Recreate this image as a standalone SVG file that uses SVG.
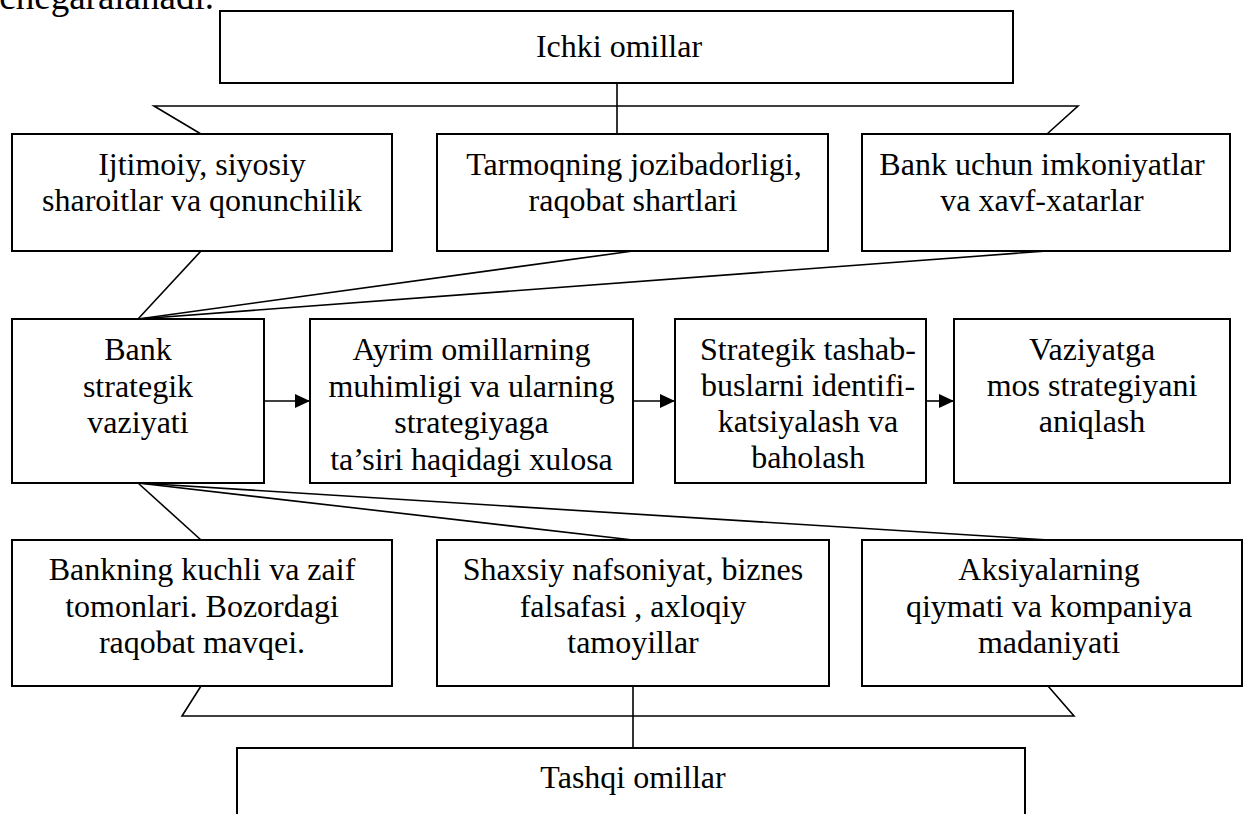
<svg xmlns="http://www.w3.org/2000/svg" width="1246" height="814" viewBox="0 0 1246 814">
  <style>
    .box { fill: #ffffff; stroke: #000000; stroke-width: 2; }
    .ln { fill: none; stroke: #000000; stroke-width: 1.6; }
    text { font-family: "Liberation Serif", "Times New Roman", serif; font-size: 32px; fill: #000000; text-anchor: middle; }
  </style>
  <defs>
    <marker id="arrow" markerUnits="userSpaceOnUse" markerWidth="16" markerHeight="14" refX="15" refY="7" orient="auto">
      <path d="M0,0 L15,7 L0,14 z" fill="#000000"/>
    </marker>
  </defs>

  <rect width="1246" height="814" fill="#ffffff"/>

  <!-- tail of the preceding paragraph -->
  <text x="214" y="9" style="text-anchor:end;font-size:37px">chegaralanadi.</text>

  <!-- connectors -->
  <g id="connectors">
    <!-- upper bracket -->
    <polyline class="ln" points="201,134 154,106 1078,106 1047,134"/>
    <line class="ln" x1="617" y1="83" x2="617" y2="134"/>
    <!-- upper row to strategic situation -->
    <line class="ln" x1="201" y1="251" x2="138" y2="319"/>
    <line class="ln" x1="633" y1="251" x2="138" y2="319"/>
    <line class="ln" x1="1047" y1="251" x2="138" y2="319"/>
    <!-- strategic situation to lower row -->
    <line class="ln" x1="138" y1="483" x2="201" y2="540"/>
    <line class="ln" x1="138" y1="483" x2="633" y2="540"/>
    <line class="ln" x1="138" y1="483" x2="1049" y2="540"/>
    <!-- lower bracket -->
    <polyline class="ln" points="201,686 182,716 1074,716 1048,686"/>
    <line class="ln" x1="633" y1="686" x2="633" y2="748"/>
    <!-- process arrows -->
    <line class="ln" x1="264" y1="401" x2="310" y2="401" marker-end="url(#arrow)"/>
    <line class="ln" x1="633" y1="401" x2="675" y2="401" marker-end="url(#arrow)"/>
    <line class="ln" x1="926" y1="401" x2="954" y2="401" marker-end="url(#arrow)"/>
  </g>

  <g id="ichki">
    <rect class="box" x="220" y="11" width="793" height="72"/>
    <text x="619" y="57">Ichki omillar</text>
  </g>

  <g id="ijtimoiy">
    <rect class="box" x="12" y="134" width="380" height="117"/>
    <text x="202" y="175">Ijtimoiy, siyosiy</text>
    <text x="202" y="211">sharoitlar va qonunchilik</text>
  </g>

  <g id="tarmoq">
    <rect class="box" x="437" y="134" width="391" height="117"/>
    <text x="634" y="175">Tarmoqning jozibadorligi,</text>
    <text x="633" y="211">raqobat shartlari</text>
  </g>

  <g id="imkoniyat">
    <rect class="box" x="862" y="134" width="368" height="117"/>
    <text x="1042" y="175">Bank uchun imkoniyatlar</text>
    <text x="1042" y="211">va xavf-xatarlar</text>
  </g>

  <g id="vaziyat">
    <rect class="box" x="12" y="319" width="252" height="164"/>
    <text x="138" y="360">Bank</text>
    <text x="138" y="396.5">strategik</text>
    <text x="138" y="433">vaziyati</text>
  </g>

  <g id="xulosa">
    <rect class="box" x="310" y="319" width="323" height="164"/>
    <text x="471.5" y="360">Ayrim omillarning</text>
    <text x="471.5" y="396.5">muhimligi va ularning</text>
    <text x="471.5" y="433">strategiyaga</text>
    <text x="471.5" y="469.5">ta’siri haqidagi xulosa</text>
  </g>

  <g id="tashabbus">
    <rect class="box" x="675" y="319" width="251" height="164"/>
    <text x="808" y="360">Strategik tashab-</text>
    <text x="808" y="396">buslarni identifi-</text>
    <text x="808" y="432">katsiyalash va</text>
    <text x="808" y="468">baholash</text>
  </g>

  <g id="strategiya">
    <rect class="box" x="954" y="319" width="276" height="164"/>
    <text x="1092" y="360">Vaziyatga</text>
    <text x="1092" y="396">mos strategiyani</text>
    <text x="1092" y="432">aniqlash</text>
  </g>

  <g id="kuchli">
    <rect class="box" x="12" y="540" width="380" height="146"/>
    <text x="202" y="580">Bankning kuchli va zaif</text>
    <text x="202" y="616.5">tomonlari. Bozordagi</text>
    <text x="202" y="653">raqobat mavqei.</text>
  </g>

  <g id="nafsoniyat">
    <rect class="box" x="437" y="540" width="392" height="146"/>
    <text x="633" y="580">Shaxsiy nafsoniyat, biznes</text>
    <text x="633" y="616.5">falsafasi , axloqiy</text>
    <text x="633" y="653">tamoyillar</text>
  </g>

  <g id="aksiya">
    <rect class="box" x="862" y="540" width="380" height="146"/>
    <text x="1049" y="580">Aksiyalarning</text>
    <text x="1049" y="616.5">qiymati va kompaniya</text>
    <text x="1049" y="653">madaniyati</text>
  </g>

  <g id="tashqi">
    <path class="box" d="M237,830 V748 H1025 V830"/>
    <text x="633" y="788">Tashqi omillar</text>
  </g>
</svg>
